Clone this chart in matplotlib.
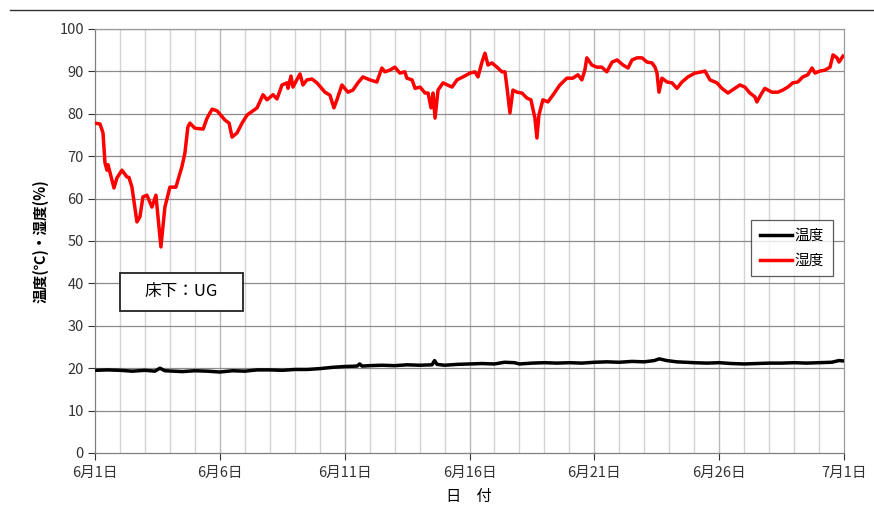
import matplotlib
matplotlib.use("Agg")
import matplotlib.pyplot as plt
from matplotlib.lines import Line2D
from matplotlib.patches import Rectangle

plt.rcParams['font.family'] = ['Noto Sans CJK JP', 'DejaVu Sans']

# ------------------------------------------------------------------ #
# Data (day offset from 6/1 00:00)                                     #
# ------------------------------------------------------------------ #
hum_day = [0.00, 0.20, 0.32, 0.40, 0.48, 0.52, 0.68, 0.76, 0.88, 1.08,
           1.28, 1.36, 1.48, 1.68, 1.80, 1.92, 2.08, 2.28, 2.44, 2.64,
           2.80, 3.00, 3.24, 3.48, 3.60, 3.72, 3.80, 4.00, 4.33, 4.49,
           4.69, 4.89, 5.21, 5.37, 5.49, 5.69, 5.89, 6.09, 6.49, 6.73,
           6.89, 7.13, 7.29, 7.49, 7.69, 7.73, 7.85, 7.93, 8.21, 8.33,
           8.49, 8.69, 8.89, 9.21, 9.41, 9.57, 9.69, 9.89, 10.13, 10.33,
           10.53, 10.73, 11.01, 11.29, 11.49, 11.61, 11.81, 12.01, 12.21, 12.41,
           12.49, 12.70, 12.82, 13.02, 13.22, 13.34, 13.46, 13.54, 13.62, 13.74,
           13.94, 14.30, 14.50, 14.74, 15.02, 15.22, 15.34, 15.50, 15.62, 15.74,
           15.90, 16.10, 16.30, 16.42, 16.50, 16.62, 16.74, 16.90, 17.10, 17.30,
           17.46, 17.62, 17.70, 17.78, 17.94, 18.14, 18.34, 18.62, 18.90, 19.14,
           19.34, 19.50, 19.62, 19.70, 19.90, 20.10, 20.30, 20.50, 20.71, 20.91,
           21.15, 21.35, 21.51, 21.71, 21.91, 22.11, 22.31, 22.43, 22.51, 22.59,
           22.71, 22.91, 23.11, 23.31, 23.51, 23.75, 24.03, 24.31, 24.43, 24.63,
           24.91, 25.11, 25.35, 25.63, 25.83, 26.03, 26.23, 26.43, 26.51, 26.71,
           26.83, 27.11, 27.35, 27.55, 27.75, 27.95, 28.15, 28.35, 28.55, 28.72,
           28.84, 29.04, 29.24, 29.44, 29.56, 29.72, 29.80, 29.96]
hum_val = [77.8, 77.6, 75.5, 68.4, 66.7, 68.0, 64.4, 62.5, 64.9, 66.7,
           65.1, 65.0, 62.7, 54.5, 55.7, 60.4, 60.8, 58.0, 60.8, 48.6,
           58.0, 62.7, 62.7, 67.5, 70.7, 76.9, 77.8, 76.6, 76.4, 79.0,
           81.1, 80.7, 78.5, 77.8, 74.5, 75.5, 77.8, 79.7, 81.4, 84.5,
           83.3, 84.5, 83.5, 86.8, 87.3, 86.0, 88.9, 86.3, 89.4, 86.8,
           88.0, 88.2, 87.3, 85.1, 84.4, 81.4, 83.3, 86.8, 85.1, 85.6,
           87.3, 88.7, 88.0, 87.5, 90.8, 89.9, 90.3, 91.0, 89.6, 89.9,
           88.4, 88.0, 86.0, 86.3, 84.9, 84.9, 81.4, 84.9, 79.0, 85.6,
           87.3, 86.3, 88.0, 88.7, 89.6, 89.9, 88.7, 92.2, 94.3, 91.5,
           92.0, 91.0, 89.9, 89.9, 86.3, 80.2, 85.6, 85.1, 84.9, 83.7,
           83.3, 79.0, 74.3, 79.7, 83.3, 82.8, 84.4, 86.8, 88.4, 88.4,
           89.2, 88.0, 90.3, 93.2, 91.5, 91.0, 91.0, 89.9, 92.2, 92.7,
           91.5, 90.8, 92.7, 93.2, 93.2, 92.2, 92.0, 91.0, 89.6, 85.1,
           88.4, 87.5, 87.3, 86.0, 87.5, 88.7, 89.6, 89.9, 90.1, 88.0,
           87.3, 86.0, 84.9, 86.0, 86.8, 86.3, 84.9, 84.0, 82.8, 84.9,
           86.0, 85.1, 85.1, 85.6, 86.3, 87.3, 87.5, 88.7, 89.2, 90.8,
           89.6, 90.1, 90.3, 91.0, 93.9, 93.2, 92.2, 93.6]

temp_day = [0.0, 0.5, 1.0, 1.5, 2.0, 2.4, 2.6, 2.8, 3.5, 4.0,
            4.5, 5.0, 5.5, 6.0, 6.5, 7.0, 7.5, 8.0, 8.5, 9.0,
            9.5, 10.0, 10.5, 10.6, 10.7, 11.0, 11.5, 12.0, 12.5, 13.0,
            13.5, 13.6, 13.7, 14.0, 14.5, 15.0, 15.5, 16.0, 16.4, 16.8,
            17.0, 17.5, 18.0, 18.5, 19.0, 19.5, 20.0, 20.5, 21.0, 21.5,
            22.0, 22.4, 22.6, 22.9, 23.3, 24.0, 24.5, 25.0, 25.5, 26.0,
            26.5, 27.0, 27.5, 28.0, 28.5, 29.0, 29.5, 29.8, 30.0]
temp_val = [19.5, 19.6, 19.5, 19.3, 19.5, 19.3, 20.0, 19.4, 19.2, 19.4,
            19.3, 19.1, 19.4, 19.3, 19.6, 19.6, 19.5, 19.7, 19.7, 19.9,
            20.2, 20.4, 20.5, 21.0, 20.5, 20.6, 20.7, 20.6, 20.8, 20.7,
            20.8, 21.8, 20.9, 20.7, 20.9, 21.0, 21.1, 21.0, 21.4, 21.3,
            21.0, 21.2, 21.3, 21.2, 21.3, 21.2, 21.4, 21.5, 21.4, 21.6,
            21.5, 21.8, 22.2, 21.8, 21.5, 21.3, 21.2, 21.3, 21.1, 21.0,
            21.1, 21.2, 21.2, 21.3, 21.2, 21.3, 21.4, 21.8, 21.7]

tick_days = [0, 5, 10, 15, 20, 25, 30]
tick_labels = ["6月1日", "6月6日", "6月11日", "6月16日", "6月21日", "6月26日", "7月1日"]

# ------------------------------------------------------------------ #
# Figure                                                               #
# ------------------------------------------------------------------ #
fig = plt.figure(figsize=(8.74, 5.22), dpi=100)
fig.patch.set_facecolor("white")
ax = fig.add_axes([95 / 874, 1 - 453 / 522, (844 - 95) / 874, (453 - 29) / 522])

# rule across the top of the page
fig.add_artist(Line2D([10 / 874, 1.0], [1 - 10 / 522] * 2,
                      transform=fig.transFigure, color="#333333", lw=1.0))

ax.set_xlim(0, 30)
ax.set_ylim(0, 100)

for d in range(1, 30):
    c = "#b8b8b8" if d % 5 == 0 else "#d4d4d4"
    ax.axvline(d, color=c, lw=1.0, zorder=0)
for v in range(10, 101, 10):
    ax.axhline(v, color="#8c8c8c", lw=0.9, zorder=0)

ax.plot(temp_day, temp_val, color="black", lw=2.5, label="温度", zorder=3)
ax.plot(hum_day, hum_val, color="#ff0000", lw=2.5, label="湿度", zorder=3)

ax.set_xticks(tick_days)
ax.set_xticklabels(tick_labels)
ax.set_yticks(range(0, 101, 10))
ax.tick_params(axis="both", labelsize=10.5, colors="#333333", length=5,
               width=0.8, direction="out")
ax.tick_params(axis="x", pad=4)
ax.tick_params(axis="y", pad=3)
for s in ax.spines.values():
    s.set_color("#9a9a9a")
    s.set_linewidth(0.9)
ax.spines["left"].set_color("#808080")
ax.spines["bottom"].set_color("#808080")

ax.set_ylabel("温度(℃)・湿度(%)", fontsize=10.5, fontweight="bold", labelpad=8)
fig.text(469 / 874, 1 - 497 / 522, "日　付", ha="center", va="center", fontsize=11)

leg = ax.legend(loc="upper left", bbox_to_anchor=((751 - 95) / 749, 1 - (220 - 29) / 424),
                fontsize=10.5, frameon=True, fancybox=False, handlelength=2.2,
                handletextpad=0.2, labelspacing=0.75, borderpad=0.6, borderaxespad=0)
leg.get_frame().set_edgecolor("#333333")
leg.get_frame().set_linewidth(0.9)

# label box "床下：UG"
ax.add_patch(Rectangle((1.0, 33.5), 4.93, 8.95, facecolor="white",
                       edgecolor="#222222", linewidth=1.3, zorder=4))
ax.text(3.47, 38.0, "床下：UG", ha="center", va="center", fontsize=12, zorder=5)

fig.savefig("out.png", dpi=100)
